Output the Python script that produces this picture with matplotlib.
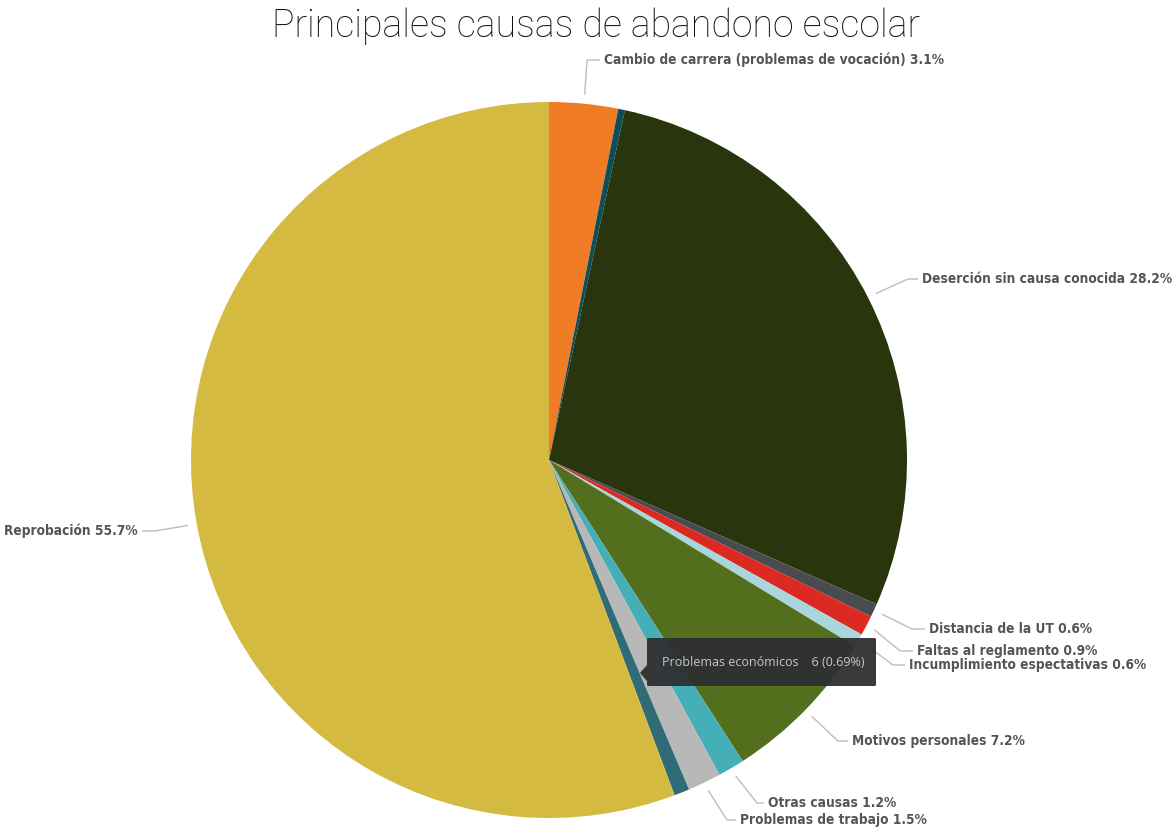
import matplotlib
matplotlib.use("Agg")
import matplotlib.pyplot as plt
import numpy as np
from matplotlib.patches import FancyBboxPatch, Polygon

# ---- data ----
categories = [
    "Cambio de carrera (problemas de vocación)",
    "Otro",
    "Deserción sin causa conocida",
    "Distancia de la UT",
    "Faltas al reglamento",
    "Incumplimiento espectativas",
    "Motivos personales",
    "Otras causas",
    "Problemas de trabajo",
    "Problemas económicos",
    "Reprobación",
]
values = [3.1, 0.3, 28.2, 0.6, 0.9, 0.6, 7.2, 1.2, 1.5, 0.69, 55.7]
shown_labels = [True, False, True, True, True, True, True, True, True, False, True]
colors = ["#F07D26", "#0E4E5B", "#28350D", "#4A4B4F", "#DC2A23", "#A9D5DC",
          "#536E1C", "#45AFB7", "#B8B8B8", "#2F6C76", "#D5BA42"]
title = "Principales causas de abandono escolar"
tooltip_name = "Problemas económicos"
tooltip_count = 6
tooltip_pct = 0.69

# ---- figure geometry (pixels) ----
W, H = 1174, 831
CX, CY, R = 549, 460, 358

def p2d(px, py):
    return ((px - CX) / R, (CY - py) / R)

fig = plt.figure(figsize=(W / 100, H / 100), dpi=100)
ax = fig.add_axes([0, 0, 1, 1])
ax.axis("off")

wedges, _ = ax.pie(values, colors=colors, startangle=90, counterclock=False,
                   radius=1.0, center=(0, 0),
                   wedgeprops=dict(linewidth=0))
ax.set_xlim((0 - CX) / R, (W - CX) / R)
ax.set_ylim((CY - H) / R, CY / R)
ax.set_aspect("auto")

# label layout: elbow point and line end (pixels), text alignment
layout = {
    0: ((587, 60), (600, 60), "left"),
    2: ((908, 279), (918, 279), "left"),
    3: ((912, 629), (925, 629), "left"),
    4: ((900, 651), (913, 651), "left"),
    5: ((893, 665), (905, 665), "left"),
    6: ((838, 741), (848, 741), "left"),
    7: ((757, 803), (764, 803), "left"),
    8: ((727, 820), (736, 820), "left"),
    10: ((155, 531), (142, 531), "right"),
}
line_col = "#BDBDBD"
text_col = "#555555"
total = sum(values)
cum = 0.0
for i, (v, show) in enumerate(zip(values, shown_labels)):
    mid = (cum + v / 2) / total * 2 * np.pi
    cum += v
    if not show:
        continue
    sx, sy = 1.025 * np.sin(mid), 1.025 * np.cos(mid)
    (ex, ey), (tx, ty), ha = layout[i]
    e = p2d(ex, ey)
    t = p2d(tx, ty)
    ax.plot([sx, e[0], t[0]], [sy, e[1], t[1]], color=line_col, lw=1.0,
            solid_capstyle="butt")
    off = 4 / R if ha == "left" else -4 / R
    ax.text(t[0] + off, t[1], f"{categories[i]} {v:.1f}%", ha=ha, va="center",
            fontsize=9.8, fontweight="bold", color=text_col,
            family="DejaVu Sans", fontstretch="condensed")

# title
tx0, ty0 = p2d(596, 26)
ax.text(tx0, ty0, title, ha="center", va="center", fontsize=27,
        color="#111111", family="Roboto", fontweight="light")

# tooltip
bx0, by0 = p2d(647, 686)
bx1, by1 = p2d(876, 638)
box = FancyBboxPatch((bx0, by0), bx1 - bx0, by1 - by0,
                     boxstyle="round,pad=0,rounding_size=0.004",
                     facecolor="#2E2F31", edgecolor="none", alpha=0.95, zorder=5)
ax.add_patch(box)
a1 = p2d(647, 665); a2 = p2d(640, 673); a3 = p2d(647, 681)
ax.add_patch(Polygon([a1, a2, a3], closed=True, facecolor="#2E2F31",
                     edgecolor="none", alpha=0.95, zorder=5))
lx, ly = p2d(662, 663)
ax.text(lx, ly, f"{tooltip_name}    {tooltip_count} ({tooltip_pct:.2f}%)",
        ha="left", va="center", fontsize=9, color="#C8C8C8",
        family="Open Sans", zorder=6)

fig.savefig("out.png", dpi=100, facecolor="white")
